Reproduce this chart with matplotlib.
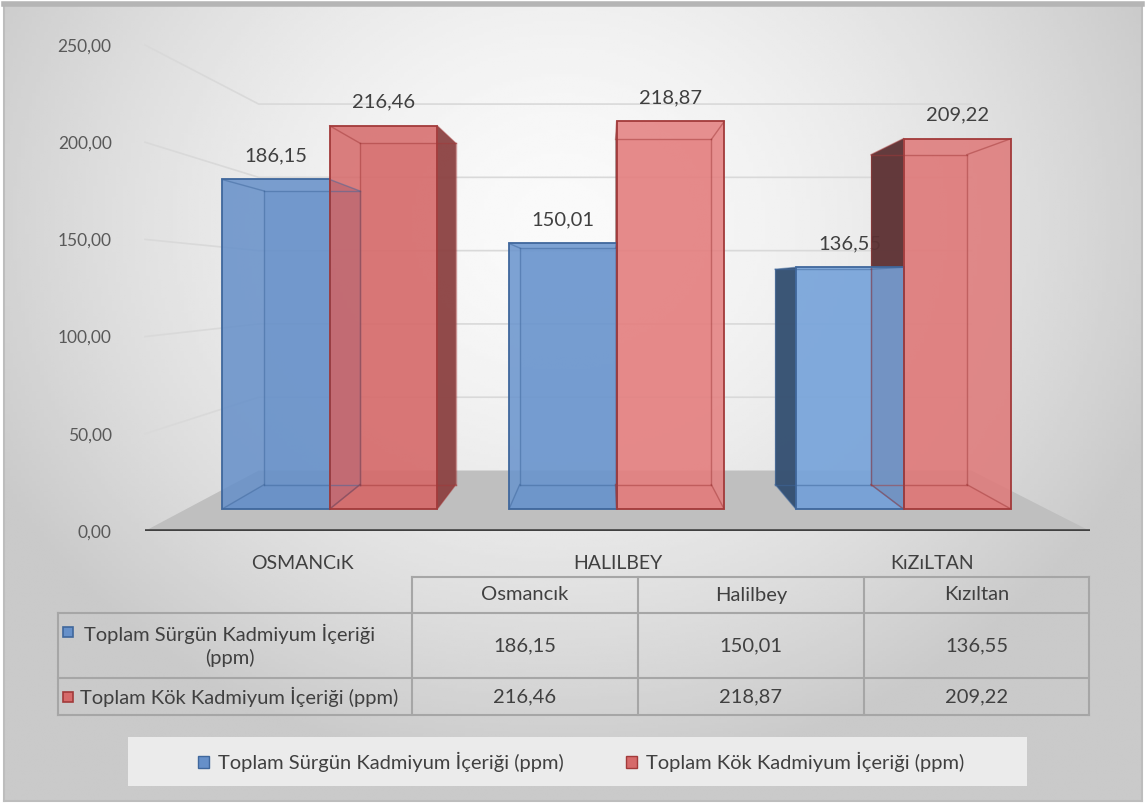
import numpy as np
import matplotlib.pyplot as plt
from matplotlib.patches import Polygon, Rectangle, Patch

plt.rcParams['font.family'] = ['Lato', 'DejaVu Sans']

# data
categories = ['OSMANCıK', 'HALILBEY', 'KıZıLTAN']
table_cols = ['Osmancık', 'Halilbey', 'Kızıltan']
series_names = ['Toplam Sürgün Kadmiyum İçeriği (ppm)',
                'Toplam Kök Kadmiyum İçeriği (ppm)']
surgun = [186.15, 150.01, 136.55]
kok = [216.46, 218.87, 209.22]
y_ticks = [0, 50, 100, 150, 200, 250]

W, H = 1146, 811

# fake 3d perspective (vanishing point in data coords, depth scales)
XV, YV = 0.967, 126.5
S_FRONT, S_BACK, S_WALL = 0.911, 0.811, 0.754
BAR_W = 0.375

# excel-ish lighting: faces get a bit lighter to the right
blue = dict(faces=['#6690c9', '#6994cd', '#76a3da'], edge='#3f679c', right='#4a73aa',
            left='#344f70', bottom='#5c86bf')
red = dict(faces=['#d66a6a', '#e47f7f', '#df7979'], edge='#a23a3a', right='#8c4444',
           left='#5c3234', bottom='#c95f5f')
TXT = '#404040'
FS = 14.5


def fmt(v):
    return f"{v:.2f}".replace('.', ',')


def proj(x, y, s):
    return (XV + s * (x - XV), YV + s * (y - YV))


fig = plt.figure(figsize=(W / 100, H / 100), dpi=100)
fig.patch.set_facecolor('white')

# background gradient
bg = fig.add_axes([4 / W, 10 / H, 1138 / W, 797 / H])
gx, gy = np.meshgrid(np.linspace(-1, 1, 300), np.linspace(-1, 1, 300))
r = np.sqrt(((gx + 0.02) / 1.05) ** 2 + ((gy + 0.45) / 1.3) ** 2)
grad = np.clip(0.98 - 0.17 * r ** 1.6, 0.79, 0.98)
bg.imshow(grad, cmap='gray', vmin=0, vmax=1, aspect='auto', extent=[0, 1, 0, 1])
bg.set_xticks([])
bg.set_yticks([])
for sp in bg.spines.values():
    sp.set_color('#bdbdbd')
    sp.set_linewidth(1.5)
bg.spines['top'].set_linewidth(4)
bg.spines['top'].set_color('#b5b5b5')

ax = fig.add_axes([145 / W, 1 - 531 / H, (1090 - 145) / W, (531 - 45) / H])
ax.set_xlim(-0.5, 2.5)
ax.set_ylim(0, 250)
ax.patch.set_visible(False)
for sp in ax.spines.values():
    sp.set_visible(False)
ax.set_yticks(y_ticks, labels=[fmt(t) for t in y_ticks])
ax.set_xticks(range(len(categories)), labels=categories)
ax.tick_params(axis='y', length=0, pad=24, labelsize=12.5, labelcolor='#595959')
ax.tick_params(axis='x', length=0, pad=17, labelsize=14, labelcolor=TXT)

# gridlines: left wall + back wall
for t in y_ticks[1:]:
    p0 = (-0.5, t)
    p1 = proj(-0.5, t, S_WALL)
    p2 = proj(2.5, t, S_WALL)
    ax.plot([p0[0], p1[0], p2[0]], [p0[1], p1[1], p2[1]], color='#d9d9d9',
            lw=1.2, zorder=1, clip_on=False)

# floor
floor = [proj(-0.5, 0, 1), proj(2.5, 0, 1), proj(2.5, 0, S_WALL), proj(-0.5, 0, S_WALL)]
ax.add_patch(Polygon(floor, closed=True, facecolor='#bfbfbf', edgecolor='none', zorder=1.5))
ax.plot([-0.5, 2.5], [0, 0], color='#404040', lw=2.6, zorder=6, solid_capstyle='butt')

# bars
for j, (vals, c) in enumerate([(surgun, blue), (kok, red)]):
    for i, v in enumerate(vals):
        x0 = i - BAR_W + j * BAR_W
        x1 = x0 + BAR_W
        face = c['faces'][i]
        fb = [proj(x0, 0, S_FRONT), proj(x1, 0, S_FRONT), proj(x1, v, S_FRONT), proj(x0, v, S_FRONT)]
        bb = [proj(x0, 0, S_BACK), proj(x1, 0, S_BACK), proj(x1, v, S_BACK), proj(x0, v, S_BACK)]
        ax.add_patch(Polygon(bb, facecolor=face, edgecolor='none', alpha=0.35, zorder=2))
        ax.add_patch(Polygon([fb[0], fb[1], bb[1], bb[0]], facecolor=c['bottom'],
                             edgecolor='none', alpha=0.5, zorder=2.5))
        if x0 > XV:
            ax.add_patch(Polygon([fb[0], bb[0], bb[3], fb[3]], facecolor=c['left'],
                                 edgecolor='none', alpha=0.95, zorder=3))
        if x1 < XV:
            ax.add_patch(Polygon([fb[1], bb[1], bb[2], fb[2]], facecolor=c['right'],
                                 edgecolor='none', alpha=0.95, zorder=3))
        ax.add_patch(Polygon(fb, facecolor=face, edgecolor='none', alpha=0.86, zorder=4))
        # box edges
        for a, b in [(bb[0], bb[1]), (bb[1], bb[2]), (bb[2], bb[3]), (bb[3], bb[0]),
                     (fb[0], bb[0]), (fb[1], bb[1]), (fb[2], bb[2]), (fb[3], bb[3])]:
            ax.plot([a[0], b[0]], [a[1], b[1]], color=c['edge'], lw=1, alpha=0.5,
                    zorder=4.5, clip_on=False)
        ax.add_patch(Polygon(fb, facecolor='none', edgecolor=c['edge'], lw=1.3, zorder=5))
        xc = (x0 + x1) / 2
        ax.annotate(fmt(v), xy=proj(xc, v, S_FRONT), xytext=(0, 17),
                    textcoords='offset points', ha='center', va='center',
                    fontsize=FS, color=TXT, zorder=2.8, annotation_clip=False)

# data table
tax = fig.add_axes([0, 0, 1, 1])
tax.set_xlim(0, W)
tax.set_ylim(H, 0)
tax.axis('off')
col_x = [58, 412, 638, 864, 1089]
row_y = [577, 613, 678, 715]
gc = '#a6a6a6'
tax.plot([col_x[1], col_x[-1]], [row_y[0]] * 2, color=gc, lw=1.5)
for yy in row_y[1:]:
    tax.plot([col_x[0], col_x[-1]], [yy, yy], color=gc, lw=1.5)
tax.plot([col_x[0]] * 2, [row_y[1], row_y[-1]], color=gc, lw=1.5)
for xx in col_x[1:]:
    tax.plot([xx, xx], [row_y[0], row_y[-1]], color=gc, lw=1.5)

for k, name in enumerate(table_cols):
    cx = (col_x[k + 1] + col_x[k + 2]) / 2
    tax.text(cx, (row_y[0] + row_y[1]) / 2, name, ha='center', va='center', fontsize=FS, color=TXT)
    tax.text(cx, (row_y[1] + row_y[2]) / 2, fmt(surgun[k]), ha='center', va='center', fontsize=FS, color=TXT)
    tax.text(cx, (row_y[2] + row_y[3]) / 2, fmt(kok[k]), ha='center', va='center', fontsize=FS, color=TXT)

tax.add_patch(Rectangle((63, 627), 10, 10, facecolor=blue['faces'][0], edgecolor=blue['edge'], lw=1.2))
tax.text(230, 645.5, 'Toplam Sürgün Kadmiyum İçeriği\n(ppm)', ha='center', va='center',
         fontsize=FS, color=TXT, linespacing=1.3)
tax.add_patch(Rectangle((63, 691.5), 10, 10, facecolor=red['faces'][0], edgecolor=red['edge'], lw=1.2))
tax.text(80, 696.5, series_names[1], ha='left', va='center', fontsize=FS, color=TXT)

# legend
tax.add_patch(Rectangle((128, 737), 899, 49, facecolor='#ebebeb', edgecolor='none'))
handles = [Patch(facecolor=blue['faces'][0], edgecolor=blue['edge']),
           Patch(facecolor=red['faces'][0], edgecolor=red['edge'])]
fig.legend(handles, series_names, loc='center', bbox_to_anchor=(581 / W, 1 - 762 / H),
           ncol=2, frameon=False, fontsize=FS, labelcolor=TXT, handlelength=0.55,
           handleheight=0.55, handletextpad=0.45, columnspacing=3.1)

fig.savefig('out.png', dpi=100)
